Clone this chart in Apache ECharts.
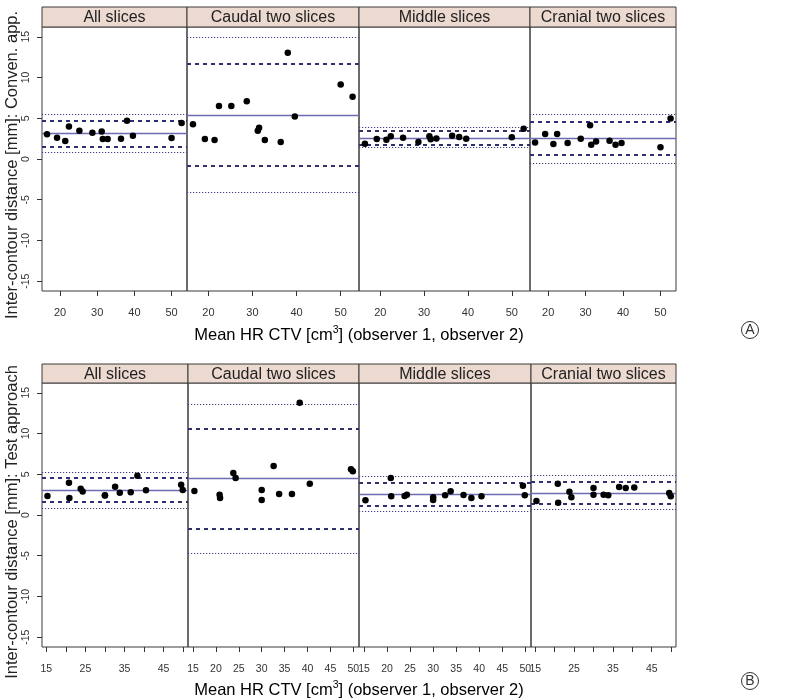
<!DOCTYPE html>
<html>
<head>
<meta charset="utf-8">
<script src="https://cdn.jsdelivr.net/npm/echarts@6/dist/echarts.min.js"></script>
<style>
html,body{margin:0;padding:0;background:#fff;}
#chart{width:786px;height:699px;}
</style>
</head>
<body>
<div id="chart"></div>
<script>
// ---------- DATA ----------
const panelNames = ['All slices', 'Caudal two slices', 'Middle slices', 'Cranial two slices'];
const xTitle = 'Mean HR CTV [cm3] (observer 1, observer 2)';
const yTitleA = 'Inter-contour distance [mm]: Conven. app.';
const yTitleB = 'Inter-contour distance [mm]: Test approach';
const yTicks = [-15, -10, -5, 0, 5, 10, 15];
const xTicksA = [20, 30, 40, 50];
const xTicksB = [15, 20, 25, 30, 35, 40, 45, 50];
const xLabelsBSparse = [15, 25, 35, 45];

// (A) Conventional approach
const volA = [16.5, 19.2, 21.4, 22.4, 25.2, 28.7, 31.2, 31.5, 32.8, 36.4, 38.0, 39.6, 50.0, 52.7];
const distA_all     = [3.03, 2.61, 2.20, 4.00, 3.47, 3.23, 3.39, 2.45, 2.45, 2.49, 4.70, 2.86, 2.57, 4.41];
const distA_caudal  = [4.25, 2.45, 2.33, 6.50, 6.50, 7.10, 3.47, 3.84, 2.33, 2.08, 13.03, 5.23, 9.15, 7.64];
const distA_middle  = [1.88, 2.45, 2.37, 2.78, 2.61, 2.08, 2.78, 2.41, 2.53, 2.86, 2.70, 2.49, 2.66, 3.71];
const distA_cranial = [2.04, 3.06, 1.84, 3.06, 1.96, 2.49, 4.13, 1.76, 2.16, 2.25, 1.76, 1.96, 1.43, 4.98];
const meanA       = [3.10, 5.43, 2.57, 2.49];
const dashHighA   = [4.70, 11.72, 3.51, 4.57];
const dashLowA    = [1.55, -0.86, 1.72, 0.53];
const dotHighA    = [5.51, 14.90, 3.84, 5.55];
const dotLowA     = [0.78, -4.08, 1.47, -0.53];

// (B) Test approach
const volB = [15.3, 20.8, 20.9, 23.8, 24.3, 30.0, 30.0, 32.6, 33.8, 36.6, 38.3, 40.5, 49.5, 49.9];
const distB_all     = [2.33, 3.97, 2.08, 3.23, 2.87, 2.41, 2.38, 3.48, 2.74, 2.78, 4.82, 3.03, 3.72, 3.06];
const distB_caudal  = [2.94, 2.50, 2.08, 5.15, 4.53, 3.06, 1.84, 6.00, 2.57, 2.57, 13.77, 3.84, 5.60, 5.36];
const distB_middle  = [1.80, 4.53, 2.29, 2.33, 2.50, 2.17, 1.84, 2.41, 2.90, 2.45, 2.08, 2.29, 3.60, 2.41];
const distB_cranial = [1.72, 3.84, 1.51, 2.86, 2.17, 3.31, 2.50, 2.50, 2.41, 3.43, 3.31, 3.39, 2.70, 2.29];
const meanB       = [3.06, 4.46, 2.57, 2.66];
const dashHighB   = [4.53, 10.54, 3.97, 4.09];
const dashLowB    = [1.59, -1.67, 1.19, 1.35];
const dotHighB    = [5.27, 13.57, 4.74, 4.83];
const dotLowB     = [0.82, -4.66, 0.41, 0.66];

// ---------- LAYOUT / STYLE ----------
const FONT = 'Liberation Sans, Arial, sans-serif';
const layouts = [
  { top: 27, height: 264, stripTop: 7, lefts: [42, 187, 359, 530], widths: [145, 172, 171, 146],
    xMin: 15.15, xMax: 54.15, labelMargin: 16, labelSize: 11 },
  { top: 383, height: 264, stripTop: 364, lefts: [42, 188, 359, 531], widths: [146, 171, 172, 145],
    xMin: 13.9, xMax: 51.25, labelMargin: 17, labelSize: 10.5 }
];
const charts = [
  { vol: volA, dists: [distA_all, distA_caudal, distA_middle, distA_cranial],
    mean: meanA, dh: dashHighA, dl: dashLowA, oh: dotHighA, ol: dotLowA,
    xTicks: xTicksA, xLabels: [xTicksA, xTicksA, xTicksA, xTicksA] },
  { vol: volB, dists: [distB_all, distB_caudal, distB_middle, distB_cranial],
    mean: meanB, dh: dashHighB, dl: dashLowB, oh: dotHighB, ol: dotLowB,
    xTicks: xTicksB, xLabels: [xLabelsBSparse, xTicksB, xTicksB, xLabelsBSparse] }
];

const grids = [], xAxes = [], yAxes = [], series = [], graphics = [];
charts.forEach((c, ci) => {
  const L = layouts[ci];
  for (let p = 0; p < 4; p++) {
    const gi = grids.length;
    grids.push({ left: L.lefts[p], top: L.top, width: L.widths[p], height: L.height,
      show: true, borderColor: '#3a3a3a', borderWidth: 1, backgroundColor: 'transparent' });
    xAxes.push({
      type: 'value', gridIndex: gi, min: L.xMin, max: L.xMax, position: 'bottom',
      axisLine: { show: false, onZero: false }, splitLine: { show: false },
      axisTick: { show: true, length: 5, customValues: c.xTicks, lineStyle: { color: '#333' } },
      axisLabel: { show: true, customValues: c.xLabels[p], margin: L.labelMargin,
        fontSize: L.labelSize, color: '#333', fontFamily: FONT }
    });
    yAxes.push({
      type: 'value', gridIndex: gi, min: -16.2, max: 16.2, position: 'left',
      axisLine: { show: false, onZero: false }, splitLine: { show: false },
      axisTick: { show: p === 0, length: 5, customValues: yTicks, lineStyle: { color: '#333' } },
      axisLabel: { show: p === 0, customValues: yTicks, rotate: 90, margin: 10,
        fontSize: 10.5, color: '#333', fontFamily: FONT }
    });
    const ml = (v, type, color, width) => ({ yAxis: v, lineStyle: { type: type, color: color, width: width } });
    series.push({
      type: 'scatter', xAxisIndex: gi, yAxisIndex: gi,
      data: c.vol.map((x, i) => [x, c.dists[p][i]]),
      symbol: 'circle', symbolSize: 6.5, itemStyle: { color: '#000', opacity: 1 }, z: 5,
      markLine: {
        silent: true, symbol: ['none', 'none'], label: { show: false }, animation: false,
        data: [
          ml(c.oh[p], [1.2, 1.8], '#3f3f88', 1.2),
          ml(c.ol[p], [1.2, 1.8], '#3f3f88', 1.2),
          ml(c.dh[p], [4, 4], '#2e2e70', 2),
          ml(c.dl[p], [4, 4], '#2e2e70', 2),
          ml(c.mean[p], 'solid', '#6c6cb4', 1.3)
        ]
      }
    });
    // strip
    graphics.push({
      type: 'rect', shape: { x: L.lefts[p], y: L.stripTop, width: L.widths[p], height: L.top - L.stripTop },
      style: { fill: '#ecd9d0', stroke: '#3a3a3a', lineWidth: 1 }, z: 10
    });
    graphics.push({
      type: 'text', x: L.lefts[p] + L.widths[p] / 2, y: (L.stripTop + L.top) / 2 + 1, z: 11,
      style: { text: panelNames[p], textAlign: 'center', textVerticalAlign: 'middle',
        font: '16px ' + FONT, fill: '#222' }
    });
  }
});

const xt = xTitle.split('cm3');
[335, 690].forEach(y => {
  graphics.push({
    type: 'text', x: 359, y: y, z: 11,
    style: {
      text: '{a|' + xt[0] + 'cm}{s|3}{a|' + xt[1] + '}',
      textAlign: 'center', textVerticalAlign: 'middle',
      rich: {
        a: { fontSize: 16.5, fontFamily: FONT, color: '#222', lineHeight: 20 },
        s: { fontSize: 10.5, fontFamily: FONT, color: '#222', verticalAlign: 'top', lineHeight: 20 }
      }
    }
  });
});
[[yTitleA, 165], [yTitleB, 522]].forEach(([t, y]) => {
  graphics.push({
    type: 'text', x: 12, y: y, rotation: Math.PI / 2, z: 11,
    style: { text: t, textAlign: 'center', textVerticalAlign: 'middle', font: '16.5px ' + FONT, fill: '#222' }
  });
});
[['A', 330], ['B', 681]].forEach(([t, y]) => {
  graphics.push({ type: 'circle', shape: { cx: 750, cy: y, r: 8.5 },
    style: { fill: 'none', stroke: '#333', lineWidth: 1 }, z: 11 });
  graphics.push({ type: 'text', x: 750, y: y + 0.5, z: 11,
    style: { text: t, textAlign: 'center', textVerticalAlign: 'middle', font: '14px ' + FONT, fill: '#333' } });
});

const chart = echarts.init(document.getElementById('chart'), null, { renderer: 'canvas' });
chart.setOption({
  animation: false,
  backgroundColor: '#fff',
  grid: grids, xAxis: xAxes, yAxis: yAxes, series: series,
  graphic: { elements: graphics }
});
</script>
</body>
</html>
